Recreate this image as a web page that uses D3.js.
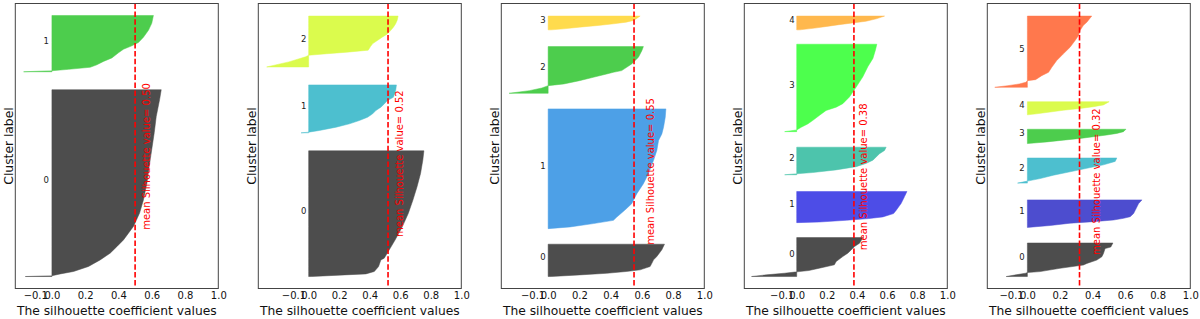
<!DOCTYPE html>
<html>
<head>
<meta charset="utf-8">
<script src="https://cdn.jsdelivr.net/npm/d3@7"></script>
<style>
  body { margin: 0; background: #fff; }
  text { font-family: "DejaVu Sans", sans-serif; }
</style>
</head>
<body>
<script>
// silhouette analysis, k = 2..6
var nClusters = [2, 3, 4, 5, 6];
var meanScores = [0.50, 0.52, 0.55, 0.38, 0.32];
var xMin = [-0.22, -0.33, -0.30, -0.348, -0.246];
var xTicks = [-0.1, 0.0, 0.2, 0.4, 0.6, 0.8, 1.0];

// first sample index / last sample index of each cluster block
var clusterLo = [
    [10, 181],
    [10, 130, 185],
    [10, 50, 163, 216],
    [10, 55, 95, 131, 216],
    [10, 51, 88, 121, 145, 168]
];
var clusterHi = [
    [166, 228],
    [115, 170, 227.5],
    [37, 150, 202, 227.5],
    [42.5, 81, 118, 204, 227.5],
    [38, 74, 109, 133, 156, 227.5]
];

// sorted silhouette values: [rank (0 = lowest sample, 1 = highest), value]
var silhouette = [
    [
        [[0,-0.16],[0.004,0],[0.014,0.05],[0.027,0.13],[0.054,0.22],[0.089,0.29],[0.125,0.35],[0.16,0.39],[0.196,0.43],[0.232,0.46],[0.268,0.49],[0.34,0.527],[0.41,0.55],[0.5,0.571],[0.59,0.585],[0.68,0.6],[0.77,0.615],[0.857,0.627],[0.946,0.647],[1,0.657]],
        [[0,-0.17],[0.018,0],[0.043,0.1],[0.08,0.23],[0.123,0.27],[0.184,0.31],[0.245,0.36],[0.337,0.4],[0.4,0.43],[0.46,0.48],[0.52,0.52],[0.613,0.55],[0.736,0.58],[0.86,0.6],[1,0.61]]
    ],
    [
        [[0,0.02],[0.011,0.2],[0.021,0.375],[0.04,0.43],[0.079,0.458],[0.132,0.473],[0.146,0.495],[0.21,0.527],[0.29,0.566],[0.397,0.614],[0.503,0.653],[0.608,0.683],[0.714,0.71],[0.82,0.733],[0.926,0.748],[1,0.755]],
        [[0,-0.05],[0.014,0],[0.049,0.07],[0.118,0.18],[0.1875,0.267],[0.257,0.332],[0.326,0.386],[0.396,0.419],[0.465,0.44],[0.535,0.473],[0.604,0.495],[0.674,0.516],[0.743,0.555],[0.882,0.57],[1,0.575]],
        [[0,-0.275],[0.1,-0.13],[0.2,-0.02],[0.23,0],[0.26,0.12],[0.29,0.25],[0.33,0.39],[0.4,0.405],[0.46,0.42],[0.52,0.45],[0.59,0.484],[0.65,0.516],[0.72,0.538],[0.78,0.555],[0.85,0.57],[0.92,0.58],[1,0.586]]
    ],
    [
        [[0,0.02],[0.05,0.2],[0.1,0.375],[0.155,0.5],[0.206,0.589],[0.31,0.653],[0.41,0.664],[0.515,0.675],[0.62,0.696],[0.825,0.728],[1,0.745]],
        [[0,0],[0.014,0.14],[0.042,0.29],[0.069,0.418],[0.097,0.44],[0.153,0.49],[0.208,0.535],[0.29,0.567],[0.375,0.61],[0.458,0.642],[0.57,0.675],[0.653,0.696],[0.736,0.707],[0.79,0.728],[0.847,0.739],[0.93,0.75],[1,0.754]],
        [[0,-0.25],[0.057,-0.12],[0.114,-0.04],[0.164,0],[0.2,0.1],[0.27,0.2],[0.343,0.289],[0.414,0.375],[0.45,0.418],[0.486,0.471],[0.557,0.503],[0.63,0.535],[0.77,0.578],[0.914,0.6],[1,0.61]],
        [[0,0.02],[0.073,0.1],[0.195,0.2],[0.317,0.32],[0.44,0.42],[0.56,0.5],[0.68,0.546],[0.83,0.567],[1,0.589]]
    ],
    [
        [[0,-0.3],[0.043,-0.2],[0.085,-0.08],[0.12,0],[0.154,0.08],[0.214,0.15],[0.3,0.25],[0.385,0.262],[0.513,0.306],[0.6,0.339],[0.68,0.361],[0.77,0.384],[0.855,0.417],[1,0.44]],
        [[0,0],[0.02,0.15],[0.076,0.33],[0.13,0.48],[0.185,0.572],[0.29,0.643],[0.4,0.661],[0.62,0.694],[0.837,0.716],[1,0.732]],
        [[0,-0.08],[0.035,0],[0.08,0.106],[0.176,0.26],[0.294,0.395],[0.41,0.46],[0.53,0.506],[0.647,0.528],[0.765,0.55],[0.88,0.583],[1,0.594]],
        [[0,-0.08],[0.019,0],[0.05,0.03],[0.088,0.073],[0.127,0.106],[0.185,0.15],[0.242,0.195],[0.28,0.262],[0.32,0.306],[0.396,0.35],[0.51,0.395],[0.627,0.439],[0.742,0.472],[0.838,0.506],[0.935,0.523],[1,0.532]],
        [[0,0.02],[0.125,0.12],[0.25,0.2],[0.375,0.28],[0.5,0.37],[0.625,0.46],[0.8,0.528],[1,0.583]]
    ],
    [
        [[0,-0.13],[0.05,-0.07],[0.1,-0.01],[0.118,0],[0.147,0.078],[0.245,0.2],[0.343,0.344],[0.39,0.365],[0.49,0.426],[0.588,0.457],[0.686,0.467],[0.833,0.477],[0.88,0.512],[1,0.525]],
        [[0,0],[0.07,0.14],[0.153,0.262],[0.21,0.406],[0.27,0.529],[0.33,0.59],[0.39,0.631],[0.506,0.652],[0.62,0.662],[0.86,0.682],[1,0.703]],
        [[0,-0.06],[0.08,0],[0.18,0.078],[0.315,0.16],[0.45,0.262],[0.59,0.365],[0.726,0.467],[0.863,0.539],[1,0.549]],
        [[0,0],[0.12,0.12],[0.24,0.22],[0.36,0.324],[0.48,0.406],[0.6,0.488],[0.71,0.549],[0.83,0.59],[1,0.605]],
        [[0,0],[0.08,0.057],[0.216,0.14],[0.35,0.22],[0.486,0.324],[0.62,0.406],[0.757,0.467],[1,0.502]],
        [[0,-0.2],[0.023,-0.12],[0.047,-0.05],[0.07,-0.01],[0.094,0],[0.108,0.05],[0.117,0.057],[0.164,0.088],[0.211,0.13],[0.282,0.15],[0.376,0.18],[0.47,0.221],[0.563,0.262],[0.657,0.293],[0.728,0.314],[0.8,0.324],[0.87,0.344],[0.915,0.365],[1,0.395]]
    ]
];

// where the "mean Silhouette value" note sits (data units)
var noteX = [0.59, 0.615, 0.676, 0.47, 0.447];
var noteY = [49, 43, 36.5, 32, 28];

// nipy_spectral(i / k) with alpha 0.7 on white
var palette = [
    ['#4d4d4d', '#4dcd4d'],
    ['#4d4d4d', '#4dbfcf', '#dbfb4d'],
    ['#4d4d4d', '#4da0e7', '#4dcd4d', '#ffdb4d'],
    ['#4d4d4d', '#4d4de7', '#4dc4ac', '#4dff4d', '#ffb84d'],
    ['#4d4d4d', '#4d4dcf', '#4dbfcf', '#4dcd4d', '#dbfb4d', '#ff784d']
];

const WIDTH = 1200;
const HEIGHT = 319;
const TOP = 3.5;
const BOTTOM = 288.5;
const PANEL_W = 203;
const Y_MAX = 238;

var svg = d3.select('body').append('svg')
    .attr('width', WIDTH)
    .attr('height', HEIGHT);

svg.append('rect').attr('width', WIDTH).attr('height', HEIGHT).attr('fill', '#fff');

var drawPanel = function(p) {
    var left = 15.3 + p * 243;
    var g = svg.append('g').attr('transform', 'translate(' + left + ',0)');

    var x = d3.scaleLinear().domain([xMin[p], 1.0]).range([0, PANEL_W]);
    var y = d3.scaleLinear().domain([0, Y_MAX]).range([BOTTOM, TOP]);

    silhouette[p].forEach(function(prof, c) {
        var lo = clusterLo[p][c], hi = clusterHi[p][c];
        var area = d3.area()
            .y(function(d) { return y(lo + d[0] * (hi - lo)); })
            .x0(x(0))
            .x1(function(d) { return x(d[1]); });
        g.append('path')
            .attr('d', area(prof))
            .attr('fill', palette[p][c])
            .attr('stroke', palette[p][c])
            .attr('stroke-width', 0.5);

        g.append('text')
            .attr('x', x(-0.05))
            .attr('y', y((lo + hi) / 2))
            .attr('font-size', 8.5)
            .attr('fill', '#222')
            .text(c);
    });

    // mean line
    g.append('line')
        .attr('x1', x(meanScores[p])).attr('x2', x(meanScores[p]))
        .attr('y1', TOP).attr('y2', BOTTOM)
        .attr('stroke', 'red')
        .attr('stroke-width', 1.6)
        .attr('stroke-dasharray', '5.5,2.4');

    var nx = x(noteX[p]), ny = y(noteY[p]);
    g.append('text')
        .attr('transform', 'translate(' + nx + ',' + ny + ') rotate(-90)')
        .attr('font-size', 10)
        .attr('fill', 'red')
        .text('mean Silhouette value= ' + d3.format('.2f')(meanScores[p]));

    // frame
    g.append('rect')
        .attr('x', 0).attr('y', TOP)
        .attr('width', PANEL_W).attr('height', BOTTOM - TOP)
        .attr('fill', 'none')
        .attr('stroke', '#444')
        .attr('stroke-width', 1);

    var axis = g.append('g')
        .attr('transform', 'translate(0,' + BOTTOM + ')')
        .call(d3.axisBottom(x).tickValues(xTicks).tickSize(0).tickPadding(3.7).tickFormat(d3.format('.1f')));
    axis.select('.domain').remove();
    axis.selectAll('text')
        .attr('font-size', 10)
        .attr('font-family', '"DejaVu Sans", sans-serif')
        .attr('fill', '#111');

    g.append('text')
        .attr('x', PANEL_W / 2)
        .attr('y', 315)
        .attr('text-anchor', 'middle')
        .attr('font-size', 12.3)
        .attr('fill', '#111')
        .text('The silhouette coefficient values');

    g.append('text')
        .attr('transform', 'translate(-2,' + (TOP + BOTTOM) / 2 + ') rotate(-90)')
        .attr('text-anchor', 'middle')
        .attr('font-size', 12.3)
        .attr('fill', '#111')
        .text('Cluster label');
};

nClusters.forEach(function(k, p) {
    drawPanel(p);
});
</script>
</body>
</html>
